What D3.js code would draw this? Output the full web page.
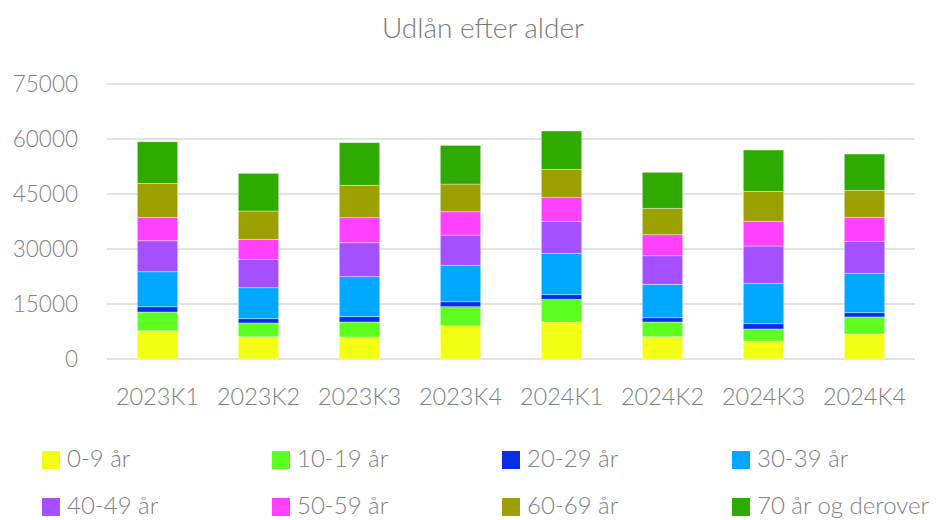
<!DOCTYPE html>
<html><head><meta charset="utf-8">
<script src="https://cdn.jsdelivr.net/npm/d3@7"></script>
<style>
html,body{margin:0;padding:0;background:#fff;}
text{font-family:Lato,"Open Sans",sans-serif;font-weight:300;}
</style></head>
<body><svg id="c" width="940" height="520"></svg>
<script>
const categories = ["2023K1","2023K2","2023K3","2023K4","2024K1","2024K2","2024K3","2024K4"];
const seriesNames = ["0-9 år","10-19 år","20-29 år","30-39 år","40-49 år","50-59 år","60-69 år","70 år og derover"];
const colors = ["#f2ff14","#5cff1f","#0a2ee6","#00a8ff","#a550ff","#ff40ff","#9ca000","#2eaa00"];
const age0_9   = [7700, 6080, 6000, 9080, 10090, 6080, 4910, 6820];
const age10_19 = [5100, 3740, 4090, 5180, 6190, 4010, 3270, 4640];
const age20_29 = [1450, 1170, 1450, 1360, 1260, 1170, 1450, 1170];
const age30_39 = [9550, 8450, 10910, 9930, 11290, 9110, 11020, 10740];
const age40_49 = [8450, 7750, 9270, 8260, 8730, 7800, 10170, 8730];
const age50_59 = [6380, 5450, 6820, 6350, 6440, 5730, 6740, 6540];
const age60_69 = [9270, 7720, 8840, 7550, 7740, 7200, 8180, 7360];
const age70plus= [11350, 10280, 11620, 10550, 10450, 9820, 11260, 9900];
const yTicks = [0, 15000, 30000, 45000, 60000, 75000];
const title = "Udlån efter alder";

const seriesValues = [age0_9, age10_19, age20_29, age30_39, age40_49, age50_59, age60_69, age70plus];
const rows = categories.map((c, i) => {
  const r = {cat: c};
  seriesNames.forEach((s, j) => r[s] = seriesValues[j][i]);
  return r;
});
const stacked = d3.stack().keys(seriesNames)(rows);

const svg = d3.select("#c");
const x = d3.scaleBand().domain(categories).range([107, 915]).paddingInner(0.6).paddingOuter(0.3);
const y = d3.scaleLinear().domain([0, 75000]).range([359, 84]);

svg.append("text").attr("x", 483).attr("y", 38).attr("text-anchor", "middle")
  .attr("font-size", 28).attr("fill", "#7a7a7a").text(title);

// gridlines
svg.append("g").selectAll("line").data(yTicks).join("line")
  .attr("x1", 107).attr("x2", 915)
  .attr("y1", d => y(d)).attr("y2", d => y(d))
  .attr("stroke", "#d9d9d9").attr("stroke-width", 1.5);

// y axis labels
const yAxis = d3.axisLeft(y).tickValues(yTicks).tickSize(0).tickPadding(0).tickFormat(d3.format("d"));
const gy = svg.append("g").attr("transform", "translate(78,0)").call(yAxis);
gy.select(".domain").remove();
gy.selectAll("text").attr("font-size", 22.5).attr("fill", "#808080")
  .attr("font-family", "Lato").attr("font-weight", 300).attr("dy", "0.35em");

// bars
svg.append("g").selectAll("g").data(stacked).join("g")
  .attr("fill", (d, i) => colors[i])
  .selectAll("rect").data(d => d).join("rect")
  .attr("x", d => x(d.data.cat))
  .attr("width", x.bandwidth())
  .attr("y", d => y(d[1]))
  .attr("height", d => y(d[0]) - y(d[1]))
  .attr("stroke", "rgba(255,255,255,0.5)").attr("stroke-width", 0.75);

// x axis labels
const xAxis = d3.axisBottom(x).tickSize(0).tickPadding(0);
const gx = svg.append("g").attr("transform", "translate(0,405)").call(xAxis);
gx.select(".domain").remove();
gx.selectAll("text").attr("font-size", 23.5).attr("fill", "#808080")
  .attr("font-family", "Lato").attr("font-weight", 300).attr("dy", 0);

// legend
const legend = svg.append("g");
const items = legend.selectAll("g").data(seriesNames).join("g")
  .attr("transform", (d, i) => `translate(${42 + (i % 4) * 230},${451 + Math.floor(i / 4) * 47})`);
items.append("rect").attr("width", 18).attr("height", 18).attr("fill", (d, i) => colors[i]);
items.append("text").attr("x", 25).attr("y", 16).attr("font-size", 24).attr("fill", "#808080").text(d => d);
</script></body></html>
